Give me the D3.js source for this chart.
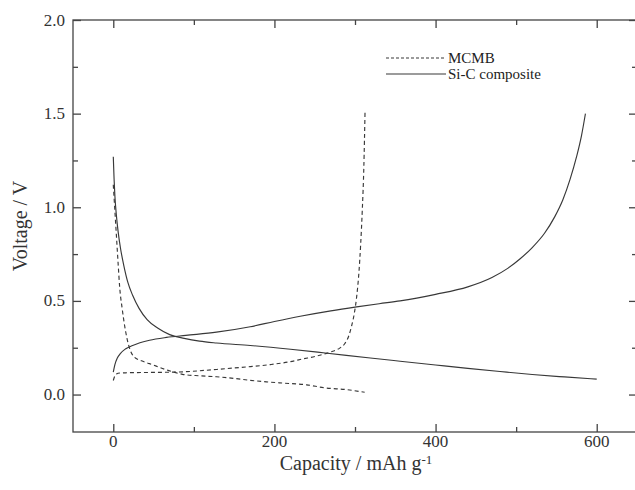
<!DOCTYPE html>
<html>
<head>
<meta charset="utf-8">
<script src="https://cdnjs.cloudflare.com/ajax/libs/d3/7.8.5/d3.min.js"></script>
<style>
  html, body { margin: 0; padding: 0; background: #fff; }
  text { font-family: "Liberation Serif", "Times New Roman", Times, "DejaVu Serif", serif; }
</style>
</head>
<body>
<script>
// capacity (mAh/g) and voltage (V)
const siDisCap = [0, 1, 2, 4, 6, 9, 13, 18, 24, 32, 42, 55, 70, 88, 107, 128, 170, 220, 263, 319, 356, 400, 440, 480, 520, 560, 600];
const siDisV   = [1.27, 1.15, 1.06, 0.95, 0.87, 0.78, 0.69, 0.60, 0.53, 0.46, 0.40, 0.355, 0.32, 0.30, 0.285, 0.275, 0.262, 0.242, 0.222, 0.195, 0.178, 0.158, 0.14, 0.123, 0.107, 0.094, 0.082];

const siChCap = [0, 2, 5, 9, 15, 24, 45, 66, 90, 128, 170, 200, 232, 270, 302, 330, 356, 400, 440, 470, 490, 505, 520, 535, 548, 558, 567, 575, 581, 586];
const siChV   = [0.12, 0.16, 0.195, 0.22, 0.243, 0.262, 0.29, 0.305, 0.316, 0.333, 0.362, 0.39, 0.418, 0.447, 0.468, 0.485, 0.50, 0.535, 0.575, 0.625, 0.675, 0.725, 0.785, 0.86, 0.95, 1.04, 1.15, 1.27, 1.38, 1.50];

const mcDisCap = [0, 2, 4, 6, 8, 11, 14, 17, 20, 25, 35, 45, 66, 86, 107, 128, 150, 170, 190, 211, 240, 262, 290, 312];
const mcDisV   = [1.12, 0.98, 0.84, 0.70, 0.57, 0.46, 0.37, 0.30, 0.25, 0.205, 0.18, 0.165, 0.132, 0.108, 0.100, 0.095, 0.086, 0.076, 0.068, 0.061, 0.052, 0.036, 0.026, 0.012];

const mcChCap = [0, 2, 4, 8, 15, 24, 45, 66, 90, 107, 128, 150, 170, 195, 219, 235, 252, 268, 281, 287, 292, 296, 299, 302, 305, 307, 309, 311, 312.5];
const mcChV   = [0.075, 0.1, 0.11, 0.115, 0.116, 0.117, 0.118, 0.119, 0.122, 0.127, 0.134, 0.142, 0.149, 0.16, 0.175, 0.19, 0.205, 0.225, 0.248, 0.27, 0.31, 0.37, 0.43, 0.52, 0.66, 0.80, 0.98, 1.22, 1.52];

const xTicks = [0, 200, 400, 600];
const yTicks = [0.0, 0.5, 1.0, 1.5, 2.0];
const legendNames = ["MCMB", "Si-C composite"];

const W = 635, H = 490;
const margin = { top: 20, right: -2, bottom: 58, left: 73 };
const width = W - margin.left - margin.right;
const height = H - margin.top - margin.bottom;

const svg = d3.select("body").append("svg")
  .attr("width", W)
  .attr("height", H)
  .style("display", "block");

const g = svg.append("g")
  .attr("transform", `translate(${margin.left},${margin.top})`);

const x = d3.scaleLinear().domain([-50, 650]).range([0, width]);
const y = d3.scaleLinear().domain([-0.2, 2.0]).range([height, 0]);

const axisColor = "#444";
const lineColor = "#383838";

// frame
g.append("rect")
  .attr("x", 0).attr("y", 0)
  .attr("width", width).attr("height", height)
  .attr("fill", "none")
  .attr("stroke", axisColor)
  .attr("stroke-width", 1.3);

// ticks (inward) on all four sides
const xMinor = d3.range(0, 650, 100).filter(d => !xTicks.includes(d));
const yMinor = d3.range(-0.25, 2.0, 0.25).filter(d => d > -0.2 && !yTicks.some(t => Math.abs(t - d) < 1e-6));

function tickSet(axis, values, size) {
  return axis.tickValues(values).tickSize(-size).tickSizeOuter(0).tickFormat("");
}

g.append("g").attr("transform", `translate(0,${height})`)
  .call(tickSet(d3.axisBottom(x), xTicks, 8));
g.append("g").attr("transform", `translate(0,${height})`)
  .call(tickSet(d3.axisBottom(x), xMinor, 5));
g.append("g").call(tickSet(d3.axisTop(x), xTicks, 8));
g.append("g").call(tickSet(d3.axisTop(x), xMinor, 5));
g.append("g").call(tickSet(d3.axisLeft(y), yTicks, 8));
g.append("g").call(tickSet(d3.axisLeft(y), yMinor, 5));
g.append("g").attr("transform", `translate(${width},0)`)
  .call(tickSet(d3.axisRight(y), yTicks, 8));
g.append("g").attr("transform", `translate(${width},0)`)
  .call(tickSet(d3.axisRight(y), yMinor, 5));

g.selectAll(".domain").remove();
g.selectAll(".tick line").attr("stroke", axisColor).attr("stroke-width", 1.3);

// tick labels
g.selectAll(".xlab").data(xTicks).enter().append("text")
  .attr("x", d => x(d))
  .attr("y", height + 15)
  .attr("text-anchor", "middle")
  .attr("font-size", "17px")
  .attr("fill", "#333")
  .text(d => d);

g.selectAll(".ylab").data(yTicks).enter().append("text")
  .attr("x", -8)
  .attr("y", d => y(d) + 5.5)
  .attr("text-anchor", "end")
  .attr("font-size", "17px")
  .attr("fill", "#333")
  .text(d => d.toFixed(1));

// axis titles
const xTitle = svg.append("text")
  .attr("x", 356)
  .attr("y", 470)
  .attr("text-anchor", "middle")
  .attr("font-size", "20px")
  .attr("fill", "#333");
xTitle.append("tspan").text("Capacity / mAh g");
xTitle.append("tspan").attr("dy", -6).attr("font-size", "13px").text("-1");

svg.append("text")
  .attr("transform", "translate(27,226) rotate(-90)")
  .attr("text-anchor", "middle")
  .attr("font-size", "20px")
  .attr("fill", "#333")
  .text("Voltage / V");

// curves
const line = d3.line()
  .x(d => x(d[0]))
  .y(d => y(d[1]))
  .curve(d3.curveMonotoneX);

const series = [
  { cap: mcDisCap, v: mcDisV, dash: "4,3" },
  { cap: mcChCap, v: mcChV, dash: "4,3" },
  { cap: siDisCap, v: siDisV, dash: null },
  { cap: siChCap, v: siChV, dash: null }
];

series.forEach(s => {
  g.append("path")
    .datum(s.cap.map((c, i) => [c, s.v[i]]))
    .attr("d", line)
    .attr("fill", "none")
    .attr("stroke", lineColor)
    .attr("stroke-width", 1.15)
    .attr("stroke-dasharray", s.dash);
});

// legend
const legend = svg.append("g").attr("transform", "translate(386,58)");
legendNames.forEach((name, i) => {
  legend.append("line")
    .attr("x1", 0).attr("x2", 60)
    .attr("y1", i * 16).attr("y2", i * 16)
    .attr("stroke", lineColor)
    .attr("stroke-width", 1.1)
    .attr("stroke-dasharray", i === 0 ? "3,2" : null);
  legend.append("text")
    .attr("x", 62)
    .attr("y", i * 16 + 5)
    .attr("font-size", "15px")
    .attr("fill", "#222")
    .text(name);
});
</script>
</body>
</html>
